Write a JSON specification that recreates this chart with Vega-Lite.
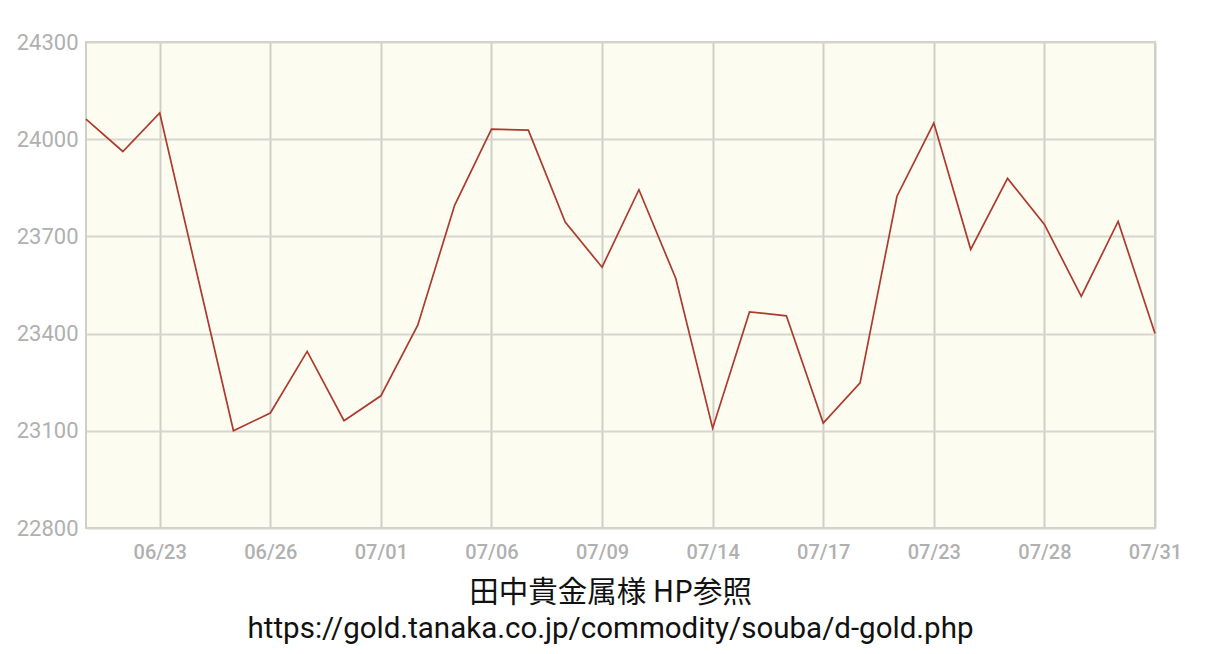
{
  "$schema": "https://vega.github.io/schema/vega-lite/v6.json",
  "width": 1069,
  "height": 486,
  "autosize": {"type": "none"},
  "padding": {"left": 86, "top": 42, "right": 65, "bottom": 126},
  "background": "white",
  "title": {
    "text": "田中貴金属様 HP参照",
    "subtitle": "https://gold.tanaka.co.jp/commodity/souba/d-gold.php",
    "orient": "bottom",
    "anchor": "middle",
    "dx": -10,
    "offset": 17,
    "font": "Noto Sans CJK JP",
    "fontSize": 29.5,
    "fontWeight": "normal",
    "color": "#111111",
    "subtitleFont": "Roboto",
    "subtitleFontSize": 29.5,
    "subtitleColor": "#111111",
    "subtitlePadding": 6
  },
  "config": {
    "view": {"fill": "#fcfcf0", "stroke": "#cfcfc8", "strokeWidth": 2}
  },
  "data": {
    "values": [
      {"date": "06/19", "price": 24062},
      {"date": "06/20", "price": 23962},
      {"date": "06/23", "price": 24081},
      {"date": "06/24", "price": 23590},
      {"date": "06/25", "price": 23100},
      {"date": "06/26", "price": 23155},
      {"date": "06/27", "price": 23345},
      {"date": "06/30", "price": 23131},
      {"date": "07/01", "price": 23208},
      {"date": "07/02", "price": 23426},
      {"date": "07/03", "price": 23796},
      {"date": "07/06", "price": 24031},
      {"date": "07/07", "price": 24028},
      {"date": "07/08", "price": 23744},
      {"date": "07/09", "price": 23605},
      {"date": "07/10", "price": 23844},
      {"date": "07/11", "price": 23570},
      {"date": "07/14", "price": 23108},
      {"date": "07/15", "price": 23467},
      {"date": "07/16", "price": 23455},
      {"date": "07/17", "price": 23124},
      {"date": "07/18", "price": 23248},
      {"date": "07/22", "price": 23824},
      {"date": "07/23", "price": 24050},
      {"date": "07/24", "price": 23660},
      {"date": "07/25", "price": 23879},
      {"date": "07/28", "price": 23737},
      {"date": "07/29", "price": 23515},
      {"date": "07/30", "price": 23746},
      {"date": "07/31", "price": 23400}
    ]
  },
  "mark": {"type": "line", "color": "#ad3a2d", "strokeWidth": 1.7},
  "encoding": {
    "x": {
      "field": "date",
      "type": "ordinal",
      "sort": null,
      "scale": {"type": "point", "padding": 0},
      "axis": {
        "title": null,
        "values": ["06/23", "06/26", "07/01", "07/06", "07/09", "07/14", "07/17", "07/23", "07/28", "07/31"],
        "labelAngle": 0,
        "labelFont": "Roboto",
        "labelFontSize": 20,
        "labelFontWeight": 500,
        "labelColor": "#b0b0b0",
        "labelPadding": 14,
        "ticks": false,
        "domain": false,
        "grid": true,
        "gridColor": "#cfcfc8",
        "gridWidth": 2
      }
    },
    "y": {
      "field": "price",
      "type": "quantitative",
      "scale": {"domain": [22800, 24300], "nice": false, "zero": false},
      "axis": {
        "title": null,
        "values": [22800, 23100, 23400, 23700, 24000, 24300],
        "format": "d",
        "labelFont": "Roboto",
        "labelFontSize": 22,
        "labelColor": "#b0b0b0",
        "labelPadding": 8,
        "ticks": false,
        "domain": false,
        "grid": true,
        "gridColor": "#d6d6ce",
        "gridWidth": 2
      }
    }
  }
}
